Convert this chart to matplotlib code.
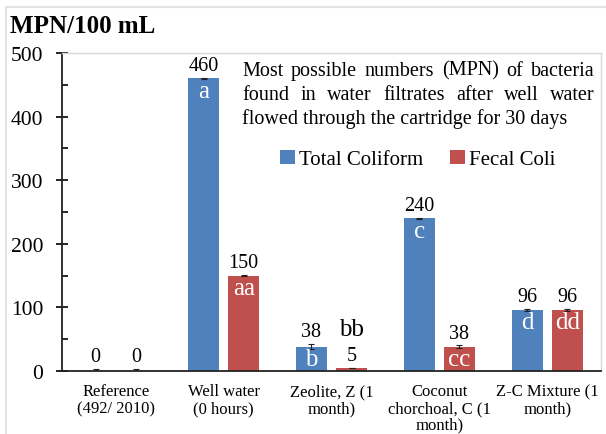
import numpy as np
import matplotlib.pyplot as plt
from matplotlib.lines import Line2D
from matplotlib.ticker import MultipleLocator

# Data
categories = ["Reference\n(492/ 2010)", "Well water\n(0 hours)", "Zeolite, Z (1\nmonth)",
              "Coconut\nchorchoal, C (1\nmonth)", "Z-C Mixture (1\nmonth)"]
total_coliform = [0, 460, 38, 240, 96]
fecal_coli = [0, 150, 5, 38, 96]
total_err = [3, 1, 4, 1, 1]
fecal_err = [3, 1, 0, 2, 1]
total_letters = ["", "a", "b", "c", "d"]
fecal_letters = ["", "aa", "bb", "cc", "dd"]
note_lines = ["Most possible numbers (MPN) of bacteria",
              "found in water filtrates after well water",
              "flowed through the cartridge for 30 days"]

BLUE = "#4F81BD"
RED = "#C0504D"

plt.rcParams["font.family"] = ["Liberation Serif", "DejaVu Serif"]

fig = plt.figure(figsize=(6.06, 4.35), dpi=100)
ax = fig.add_axes([0.102, 0.145, 0.890, 0.731])

# Outer light frame of the chart area
fig.add_artist(Line2D([0.010, 1.0], [0.982, 0.982], transform=fig.transFigure,
                      color="#e3e3e3", lw=1.5))
fig.add_artist(Line2D([0.010, 0.010], [0.0, 0.982], transform=fig.transFigure,
                      color="#e3e3e3", lw=1.5))

x = np.arange(len(categories))
width = 0.29
off = 0.186

err_kw = dict(ecolor="#222222", elinewidth=0.8, capsize=2, capthick=0.8)
b1 = ax.bar(x - off, total_coliform, width, color=BLUE, yerr=total_err,
            error_kw=err_kw, label="Total Coliform", zorder=2)
b2 = ax.bar(x + off, fecal_coli, width, color=RED, yerr=fecal_err,
            error_kw=err_kw, label="Fecal Coli", zorder=2)

# Value labels and significance letters
for bars, vals, errs, letters in [(b1, total_coliform, total_err, total_letters),
                                  (b2, fecal_coli, fecal_err, fecal_letters)]:
    for bar, v, e, lt in zip(bars, vals, errs, letters):
        cx = bar.get_x() + bar.get_width() / 2
        ax.annotate(f"{v}", (cx, v + e), xytext=(0, 2), textcoords="offset points",
                    ha="center", va="bottom", fontsize=14.5)
        if not lt:
            continue
        if v < 20:
            ax.annotate(lt, (cx, v + e), xytext=(0, 20), textcoords="offset points",
                        ha="center", va="bottom", fontsize=18, color="black")
        else:
            ax.annotate(lt, (cx, v), xytext=(0, -1), textcoords="offset points",
                        ha="center", va="top", fontsize=18, color="white")

ax.set_xlim(-0.5, len(categories) - 0.5)
ax.set_ylim(0, 500)
ax.set_xticks(x)
ax.set_xticklabels(categories, fontsize=12, linespacing=1.05)
ax.tick_params(axis="x", length=0, pad=9)

ax.yaxis.set_major_locator(MultipleLocator(100))
ax.yaxis.set_minor_locator(MultipleLocator(50))
ax.tick_params(axis="y", which="major", direction="inout", length=9, width=1.2,
               labelsize=15.5, pad=9)
ax.tick_params(axis="y", which="minor", direction="in", length=4, width=1.2)

for s in ["left", "bottom"]:
    ax.spines[s].set_color("#222222")
    ax.spines[s].set_linewidth(1.3)
for s in ["top", "right"]:
    ax.spines[s].set_color("#d9d9d9")
    ax.spines[s].set_linewidth(1.0)

fig.text(0.017, 1 - 33 / 435, "MPN/100 mL", fontsize=18, fontweight="bold",
         va="baseline", ha="left")

# Justified note: spread the words of the first lines across the block width
renderer = fig.canvas.get_renderer()
note_left, note_right = 0.334, 0.988
note_size = 14.5
line_step = 0.0755
inv = ax.transAxes.inverted()
for i, line in enumerate(note_lines):
    y = 0.931 - i * line_step
    words = line.split()
    if i == len(note_lines) - 1:
        ax.text(note_left, y, line, transform=ax.transAxes, ha="left", va="baseline",
                fontsize=note_size)
        continue
    txts = [ax.text(0, y, w, transform=ax.transAxes, ha="left", va="baseline",
                    fontsize=note_size) for w in words]
    widths = []
    for t in txts:
        bb = t.get_window_extent(renderer)
        p0 = inv.transform((bb.x0, bb.y0))
        p1 = inv.transform((bb.x1, bb.y0))
        widths.append(p1[0] - p0[0])
    gap = (note_right - note_left - sum(widths)) / (len(words) - 1)
    pos = note_left
    for t, w in zip(txts, widths):
        t.set_x(pos)
        pos += w + gap

ax.legend(loc="center", bbox_to_anchor=(0.66, 0.665), ncol=2, frameon=False,
          fontsize=15, handlelength=0.7, handleheight=0.7, handletextpad=0.2,
          columnspacing=1.3)

fig.savefig("out.png", dpi=100)
